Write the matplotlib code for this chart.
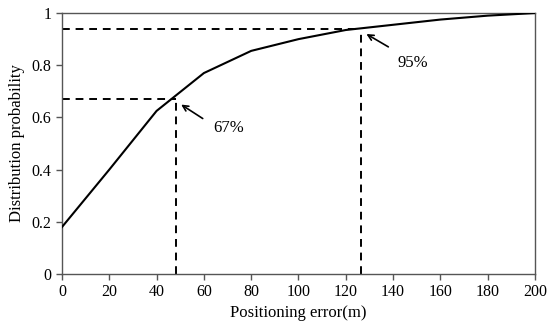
import matplotlib
matplotlib.use("Agg")
import matplotlib.pyplot as plt

# CDF of positioning error
error_m = [0, 20, 40, 60, 80, 100, 120, 140, 160, 180, 200]
probability = [0.18, 0.40, 0.625, 0.77, 0.855, 0.90, 0.935, 0.955, 0.975, 0.99, 1.0]

# marked percentiles: (error, probability, label)
marks_x = [48.2, 126.5]
marks_y = [0.67, 0.94]
mark_labels = ["67%", "95%"]
label_pos = [(70.5, 0.56), (148.5, 0.81)]
arrow_tail = [(60.5, 0.59), (139, 0.865)]

x_ticks = list(range(0, 201, 20))
y_ticks = [0, 0.2, 0.4, 0.6, 0.8, 1.0]
y_tick_labels = ["0", "0.2", "0.4", "0.6", "0.8", "1"]

plt.rcParams["font.family"] = ["Liberation Serif", "DejaVu Serif"]

fig = plt.figure(figsize=(5.5, 3.26), dpi=100)
ax = fig.add_axes([0.1127, 0.1595, 0.86, 0.8005])

ax.plot(error_m, probability, color="black", lw=1.5, zorder=3)

for mx, my in zip(marks_x, marks_y):
    ax.plot([0, mx], [my, my], color="black", lw=1.4, ls=(0, (4, 3)), zorder=2)
    ax.plot([mx, mx], [0, my], color="black", lw=1.4, ls=(0, (4, 3)), zorder=2)

for mx, my, lab, (tx, ty), (ax_, ay) in zip(marks_x, marks_y, mark_labels, label_pos, arrow_tail):
    ax.annotate("", xy=(mx + 1.2, my - 0.015), xytext=(ax_, ay),
                arrowprops=dict(arrowstyle="->", color="black", lw=1.2))
    ax.text(tx, ty, lab, ha="center", va="center", fontsize=12)

ax.set_xlim(0, 200)
ax.set_ylim(0, 1)
ax.set_xticks(x_ticks)
ax.set_yticks(y_ticks)
ax.set_yticklabels(y_tick_labels)
ax.tick_params(direction="out", length=4, width=1, colors="#555555", labelcolor="black", labelsize=11.5)
for s in ax.spines.values():
    s.set_color("#555555")
    s.set_linewidth(1)

ax.set_xlabel("Positioning error(m)", fontsize=12, labelpad=3)
ax.set_ylabel("Distribution probability", fontsize=12, labelpad=5)

fig.savefig("out.png", dpi=100)
